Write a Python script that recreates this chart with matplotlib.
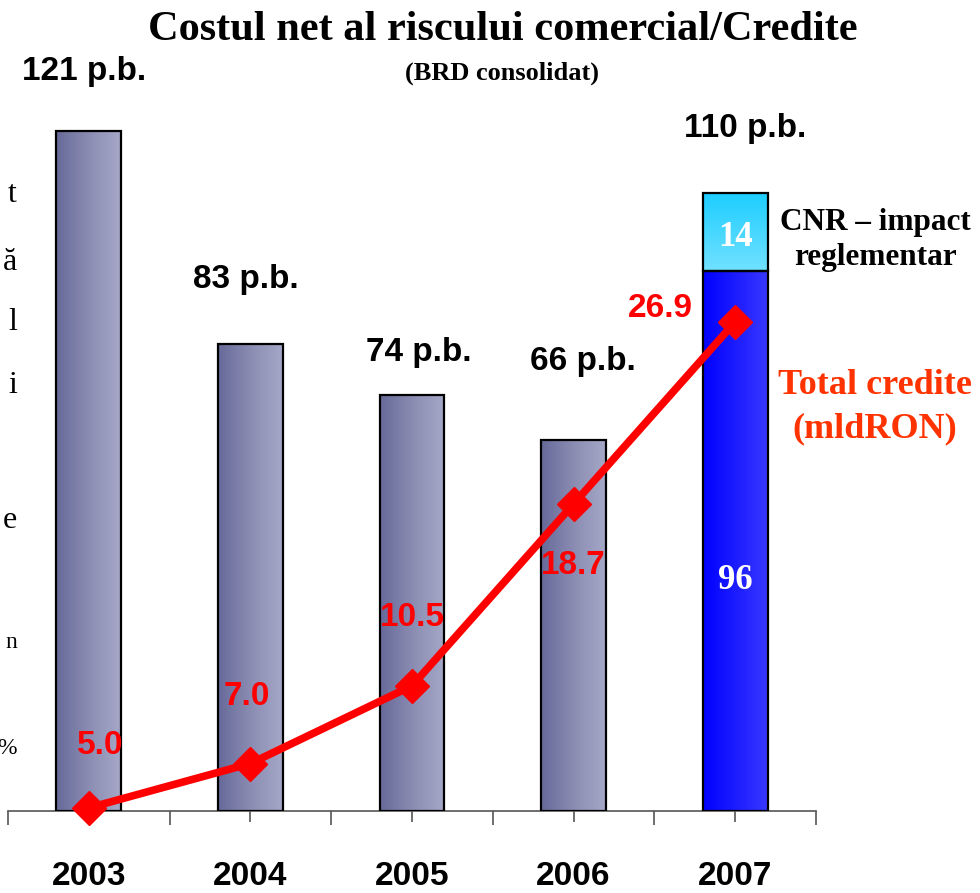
import numpy as np
import matplotlib.pyplot as plt
from matplotlib.patches import Rectangle
from matplotlib.colors import LinearSegmentedColormap

years = ['2003', '2004', '2005', '2006', '2007']
cost_pb = [121, 83, 74, 66, 96]      # bara principala (p.b.)
cnr_impact = [0, 0, 0, 0, 14]        # CNR - impact reglementar
total_pb = [121, 83, 74, 66, 110]
credite = [5.0, 7.0, 10.5, 18.7, 26.9]   # Total credite (mldRON)

sans = ['Liberation Sans', 'DejaVu Sans']
serif = ['Liberation Serif', 'DejaVu Serif']

fig = plt.figure(figsize=(9.8, 8.93), dpi=100)
ax = fig.add_axes([8/980, 82/893, 808/980, 751/893])
ax2 = ax.twinx()

x = np.arange(len(years))
w = 0.4
ax.set_xlim(-0.5, 4.5)
ax.set_ylim(0, 133.6)
ax2.set_ylim(4.86, 38.7)

grey = LinearSegmentedColormap.from_list('g', ['#676a99', '#8a8cb2', '#a6a8c8'])
blue = LinearSegmentedColormap.from_list('b', ['#0000ff', '#3838ff'])
cyan = LinearSegmentedColormap.from_list('c', ['#1ccdff', '#72e1ff'])
hgrad = np.linspace(0, 1, 256).reshape(1, -1)
vgrad = np.linspace(0, 1, 256).reshape(-1, 1)

for i in range(len(years)):
    cm = blue if years[i] == '2007' else grey
    r = Rectangle((x[i] - w/2, 0), w, cost_pb[i], facecolor='none',
                  edgecolor='black', lw=1.6, zorder=3)
    ax.add_patch(r)
    im = ax.imshow(hgrad, cmap=cm, aspect='auto', zorder=2,
                   extent=(x[i] - w/2, x[i] + w/2, 0, cost_pb[i]))
    im.set_clip_path(r)
    if cnr_impact[i]:
        r2 = Rectangle((x[i] - w/2, cost_pb[i]), w, cnr_impact[i], facecolor='none',
                       edgecolor='black', lw=1.6, zorder=3)
        ax.add_patch(r2)
        im2 = ax.imshow(vgrad, cmap=cyan, aspect='auto', zorder=2,
                        extent=(x[i] - w/2, x[i] + w/2, cost_pb[i], total_pb[i]))
        im2.set_clip_path(r2)
        ax.text(x[i], cost_pb[i] + cnr_impact[i]/2 - 1, str(cnr_impact[i]), color='white',
                ha='center', va='center', fontsize=25, fontweight='bold', family=serif, zorder=5)
        ax.text(x[i], 41, str(cost_pb[i]), color='white', ha='center', va='center',
                fontsize=25, fontweight='bold', family=serif, zorder=5)

# etichete p.b.
pb_pos = [(-0.03, 131.5), (-0.03, 94.5), (0.04, 81.5), (0.06, 80.0), (0.06, 121.5)]
for i in range(len(years)):
    dx, yy = pb_pos[i]
    ax.text(x[i] + dx, yy, '%d p.b.' % total_pb[i], ha='center', va='center',
            fontsize=24, fontweight='bold', family=sans)

# linia credite
ax2.plot(x, credite, color='#ff0000', lw=5.5, marker='D', markersize=17,
         zorder=6, clip_on=False)
cr_pos = [(0.07, 7.8), (-0.02, 10.0), (0.0, 13.6), (0.0, 15.9), (-0.46, 27.5)]
for i in range(len(years)):
    dx, yy = cr_pos[i]
    ax2.text(x[i] + dx, yy, '%.1f' % credite[i], color='#ff0000', ha='center', va='center',
             fontsize=24, fontweight='bold', family=sans, zorder=7)

for a in (ax, ax2):
    for s in ('top', 'left', 'right'):
        a.spines[s].set_visible(False)
    a.set_yticks([])
ax.spines['bottom'].set_color('#555555')
ax.spines['bottom'].set_linewidth(1.2)
ax2.spines['bottom'].set_visible(False)

ax.set_xticks(np.arange(-0.5, 5, 1.0))
ax.set_xticklabels([])
ax.set_xticks(x, minor=True)
ax.set_xticklabels(years, minor=True, fontsize=24, fontweight='bold', family=sans)
ax.tick_params(axis='x', which='major', direction='out', length=10, width=1.2,
               color='#555555')
ax.tick_params(axis='x', which='minor', direction='out', length=8, width=1.2,
               color='#555555', pad=28)

fig.text(503/980, 1 - 30/893, 'Costul net al riscului comercial/Credite', ha='center',
         va='center', fontsize=30.5, fontweight='bold', family=serif)
fig.text(502/980, 1 - 73/893, '(BRD consolidat)', ha='center', va='center',
         fontsize=19, fontweight='bold', family=serif)
fig.text(875/980, 1 - 240/893, 'CNR \u2013 impact\nreglementar', ha='center', va='center',
         fontsize=22.5, fontweight='bold', family=serif, linespacing=1.3)
fig.text(875/980, 1 - 407/893, 'Total credite\n(mldRON)', ha='center', va='center',
         fontsize=26, fontweight='bold', family=serif, color='#ff3300', linespacing=1.4)

# text taiat la marginea stanga
left_chars = [('t', 195, 23), ('\u0103', 262, 23), ('l', 322, 23), ('i', 385, 23),
              ('e', 520, 23), ('n', 643, 17), ('%', 748, 17)]
for ch, yy, fs in left_chars:
    fig.text(17/980, 1 - yy/893, ch, ha='right', va='center', fontsize=fs, family=serif)

fig.savefig('out.png', dpi=100)
